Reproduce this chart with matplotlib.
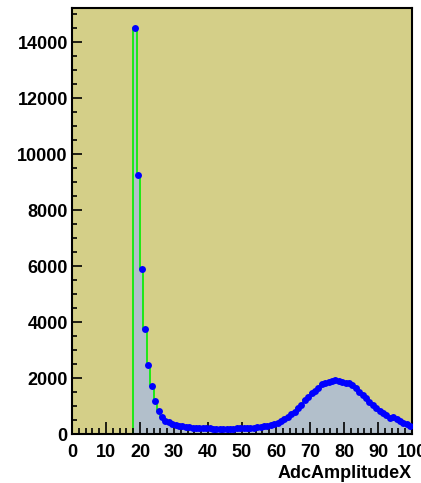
import matplotlib
matplotlib.use("Agg")
import matplotlib.pyplot as plt
import numpy as np
from matplotlib.ticker import MultipleLocator

# AdcAmplitudeX histogram, 100 bins of width 1 from 0 to 100
edges = np.arange(0, 101, 1)
counts = [0] * 18 + [
    14500, 9250, 5900, 3770, 2470, 1700, 1190, 830, 600, 480,
    420, 370, 330, 300, 275, 255, 240, 225, 215, 210,
    205, 200, 200, 195, 195, 190, 190, 190, 192, 195,
    198, 200, 205, 210, 220, 230, 240, 255, 270, 290,
    320, 360, 410, 470, 530, 610, 700, 800, 920, 1050,
    1200, 1340, 1450, 1550, 1650, 1800, 1830, 1850, 1890, 1925,
    1900, 1870, 1840, 1810, 1760, 1640, 1500, 1390, 1270, 1150,
    1040, 920, 840, 740, 670, 580, 610, 520, 450, 410,
    360, 280,
]
counts = np.array(counts)
centers = (edges[:-1] + edges[1:]) / 2

plt.rcParams['font.family'] = ['Liberation Sans', 'DejaVu Sans']
plt.rcParams['font.weight'] = 'bold'

fig = plt.figure(figsize=(4.21, 4.83), dpi=100)
ax = fig.add_axes([0.171, 0.1014, 0.8076, 0.882])
ax.set_facecolor('#d4cf88')

# filled histogram with green outline, then the bin contents as blue points
ax.stairs(counts, edges, fill=True, color='#b2bfcb', zorder=1)
ax.stairs(counts, edges, color='#00ee00', linewidth=1.2, zorder=1.5)
ax.plot(centers[counts > 0], counts[counts > 0], 'o', color='#0000ff',
        markersize=5, markeredgewidth=0, zorder=3)

ax.set_xlim(0, 100)
ax.set_ylim(0, 1.05 * counts.max())
ax.xaxis.set_major_locator(MultipleLocator(10))
ax.xaxis.set_minor_locator(MultipleLocator(2))
ax.yaxis.set_major_locator(MultipleLocator(2000))
ax.yaxis.set_minor_locator(MultipleLocator(500))

ax.tick_params(axis='both', which='both', direction='in', labelsize=13,
               top=False, right=False, width=1.2)
ax.tick_params(axis='x', which='major', length=8.5, pad=7)
ax.tick_params(axis='x', which='minor', length=4.3)
ax.tick_params(axis='y', which='major', length=7.2, pad=3)
ax.tick_params(axis='y', which='minor', length=3.6)
for s in ax.spines.values():
    s.set_linewidth(1.5)

ax.set_xlabel('AdcAmplitudeX', fontsize=13, fontweight='bold', loc='right', labelpad=3)

fig.savefig('out.png', dpi=100)
